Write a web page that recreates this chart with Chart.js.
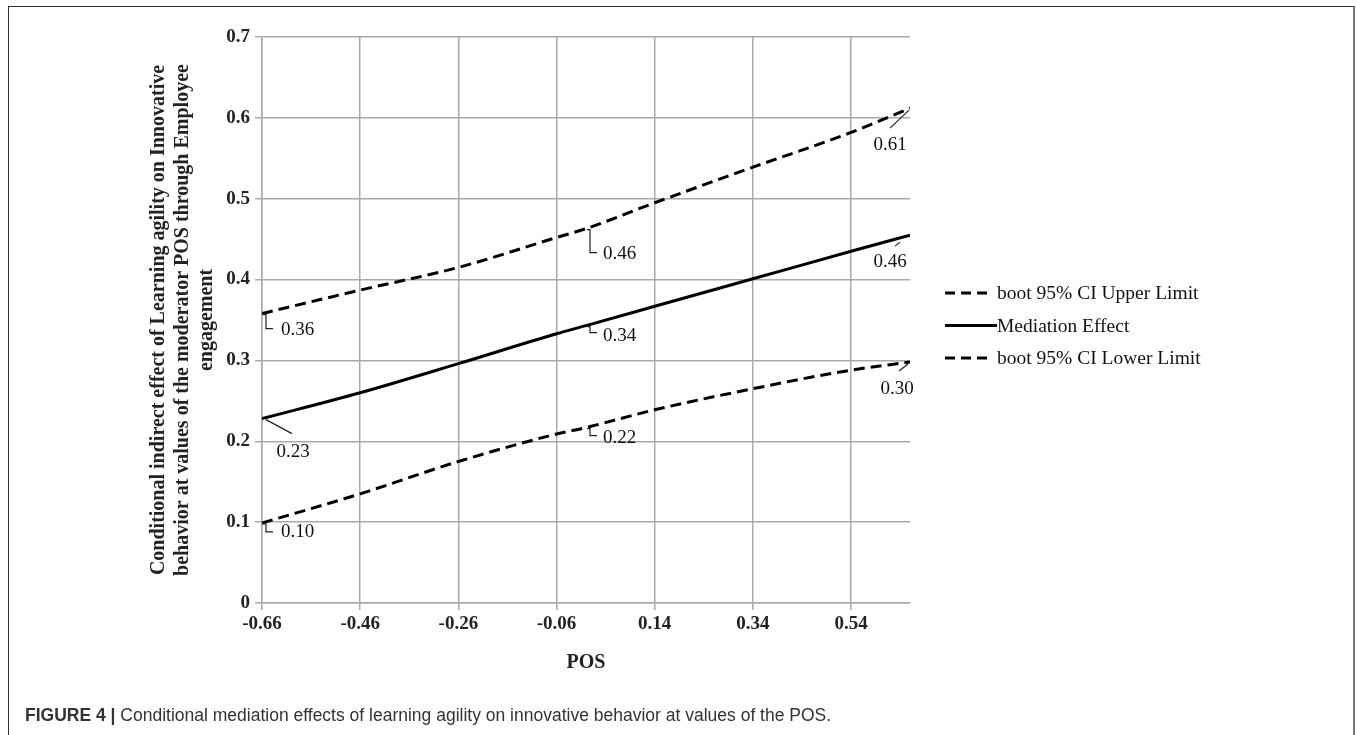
<!DOCTYPE html>
<html><head><meta charset="utf-8">
<script src="https://cdn.jsdelivr.net/npm/chart.js@4/dist/chart.umd.min.js"></script>
<style>
html,body{margin:0;padding:0;background:#fff;width:1357px;height:735px;overflow:hidden}
#frame{position:absolute;left:8px;top:6px;width:1347px;height:760px;border:1px solid #333;border-right:2px solid #777;box-sizing:border-box}
#wrap{position:absolute;left:0;top:0;width:1357px;height:735px}
#caption{position:absolute;left:25px;top:705px;font-family:"Liberation Sans",Arial,sans-serif;font-size:17.5px;color:#333;white-space:nowrap}
</style></head>
<body>
<div id="frame"></div>
<div id="wrap"><canvas id="c" width="1357" height="735"></canvas></div>
<div id="caption"><b>FIGURE 4 |</b> Conditional mediation effects of learning agility on innovative behavior at values of the POS.</div>
<script>
// ---- data ----
const pos        = [-0.66, -0.46, -0.26, -0.06, 0.00, 0.14, 0.34, 0.54, 0.66];
const upperCI    = [0.358, 0.387, 0.415, 0.452, 0.463, 0.495, 0.539, 0.582, 0.612];
const mediation  = [0.228, 0.260, 0.296, 0.333, 0.343, 0.367, 0.401, 0.435, 0.455];
const lowerCI    = [0.099, 0.135, 0.175, 0.209, 0.217, 0.239, 0.265, 0.288, 0.298];
const seriesNames = ['boot 95% CI Upper Limit', 'Mediation Effect', 'boot 95% CI Lower Limit'];
const labelIndex  = [0, 4, 8];
const upperLabels = ['0.36', '0.46', '0.61'];
const medLabels   = ['0.23', '0.34', '0.46'];
const lowerLabels = ['0.10', '0.22', '0.30'];
const xTicks      = [-0.66, -0.46, -0.26, -0.06, 0.14, 0.34, 0.54];
const xTickLabels = ['-0.66', '-0.46', '-0.26', '-0.06', '0.14', '0.34', '0.54'];
const yTicks      = [0, 0.1, 0.2, 0.3, 0.4, 0.5, 0.6, 0.7];
const yTickLabels = ['0', '0.1', '0.2', '0.3', '0.4', '0.5', '0.6', '0.7'];
const xTitle = 'POS';
const yTitle = ['Conditional indirect effect of Learning agility on Innovative',
                'behavior at values of the moderator POS through Employee',
                'engagement'];

// ---- styles (label callout geometry) ----
// kind: 'br' bracket, 'dg' diagonal leader; offsets relative to the point
const calloutStyle = [
  [ {kind:'br', h:15, tx:19, ty:16}, {kind:'br', h:24, tx:17, ty:25}, {kind:'dg', lx1:-1, ly1:2, lx2:-20, ly2:20, tx:-20, ty:37} ],
  [ {kind:'dg', lx1:4, ly1:1, lx2:30, ly2:15, tx:31, ty:33}, {kind:'br', h:7, tx:17, ty:10}, {kind:'dg', lx1:-10, ly1:7, lx2:-15, ly2:11, tx:-20, ty:27} ],
  [ {kind:'br', h:9, tx:19, ty:9}, {kind:'br', h:8, tx:17, ty:10}, {kind:'dg', lx1:-2, ly1:2, lx2:-11, ly2:9, tx:-13, ty:27} ]
];
const serif = '"Liberation Serif","Times New Roman",serif';

const pts = arr => pos.map((x, i) => ({x: x, y: arr[i]}));
const allLabels = [upperLabels, medLabels, lowerLabels];

const calloutPlugin = {
  id: 'callouts',
  afterDatasetsDraw(chart) {
    const ctx = chart.ctx;
    const xs = chart.scales.x, ys = chart.scales.y;
    ctx.save();
    chart.data.datasets.forEach((ds, d) => {
      labelIndex.forEach((idx, k) => {
        const px = xs.getPixelForValue(ds.data[idx].x);
        const py = ys.getPixelForValue(ds.data[idx].y);
        const st = calloutStyle[d][k];
        ctx.strokeStyle = '#222';
        ctx.lineWidth = 1.2;
        ctx.setLineDash([]);
        ctx.beginPath();
        if (st.kind === 'br') {
          ctx.moveTo(px + 1, py + 1);
          ctx.lineTo(px + 4, py + 1);
          ctx.lineTo(px + 4, py + st.h);
          ctx.lineTo(px + 11, py + st.h);
        } else {
          ctx.moveTo(px + st.lx1, py + st.ly1);
          ctx.lineTo(px + st.lx2, py + st.ly2);
        }
        ctx.stroke();
        ctx.fillStyle = '#111';
        ctx.font = '19px ' + serif;
        ctx.textBaseline = 'middle';
        ctx.textAlign = st.kind === 'br' ? 'left' : 'center';
        ctx.fillText(allLabels[d][k], px + st.tx, py + st.ty);
      });
    });
    ctx.restore();
  }
};

const legendPlugin = {
  id: 'sideLegend',
  afterDraw(chart) {
    const ctx = chart.ctx;
    ctx.save();
    chart.data.datasets.forEach((ds, i) => {
      const y = 293 + i * 32.5;
      const dashed = ds.borderDash && ds.borderDash.length;
      ctx.strokeStyle = ds.borderColor;
      ctx.lineWidth = ds.borderWidth;
      ctx.setLineDash(dashed ? [10, 6] : []);
      ctx.beginPath();
      ctx.moveTo(945, y);
      ctx.lineTo(dashed ? 993 : 997, y);
      ctx.stroke();
      ctx.setLineDash([]);
      ctx.fillStyle = '#111';
      ctx.font = '19.5px ' + serif;
      ctx.textAlign = 'left';
      ctx.textBaseline = 'middle';
      ctx.fillText(ds.label, 997, y + 1);
    });
    ctx.restore();
  }
};

const lineStyle = (dash) => ({
  borderColor: '#000', borderWidth: 3, borderDash: dash,
  pointRadius: 0, fill: false, cubicInterpolationMode: 'monotone', borderCapStyle: 'butt'
});

new Chart(document.getElementById('c'), {
  type: 'line',
  data: {
    datasets: [
      Object.assign({label: seriesNames[0], data: pts(upperCI)}, lineStyle([11, 6])),
      Object.assign({label: seriesNames[1], data: pts(mediation)}, lineStyle([])),
      Object.assign({label: seriesNames[2], data: pts(lowerCI)}, lineStyle([11, 6]))
    ]
  },
  options: {
    responsive: false,
    devicePixelRatio: 1,
    animation: false,
    layout: {padding: {left: 140, right: 447, top: 37, bottom: 60}},
    plugins: {legend: {display: false}, tooltip: {enabled: false}},
    scales: {
      x: {
        type: 'linear', min: -0.66, max: 0.66,
        afterBuildTicks: s => { s.ticks = xTicks.map(v => ({value: v})); },
        afterFit: s => { s.height = 72; },
        grid: {color: '#aaa', lineWidth: 1.5, tickLength: 7, drawTicks: true},
        border: {color: '#aaa', width: 1.5},
        ticks: {
          autoSkip: false, maxRotation: 0, padding: 3, color: '#222',
          font: {family: serif, size: 19, weight: 'bold'},
          callback: (v) => { const i = xTicks.findIndex(t => Math.abs(t - v) < 1e-9); return i >= 0 ? xTickLabels[i] : ''; }
        },
        title: {display: true, text: xTitle, color: '#222', padding: 0,
                font: {family: serif, size: 20, weight: 'bold', lineHeight: 1.2}}
      },
      y: {
        type: 'linear', min: 0, max: 0.7,
        afterBuildTicks: s => { s.ticks = yTicks.map(v => ({value: v})); },
        afterFit: s => { s.width = 122; },
        grid: {color: '#aaa', lineWidth: 1.5, tickLength: 7, drawTicks: true},
        border: {color: '#aaa', width: 1.5},
        ticks: {
          autoSkip: false, padding: 5, color: '#222',
          font: {family: serif, size: 19, weight: 'bold'},
          callback: (v) => { const i = yTicks.findIndex(t => Math.abs(t - v) < 1e-9); return i >= 0 ? yTickLabels[i] : ''; }
        },
        title: {display: true, text: yTitle, color: '#222', padding: {top: 7, bottom: 0},
                font: {family: serif, size: 20, weight: 'bold', lineHeight: 1.2}}
      }
    }
  },
  plugins: [calloutPlugin, legendPlugin]
});
</script>
</body></html>
